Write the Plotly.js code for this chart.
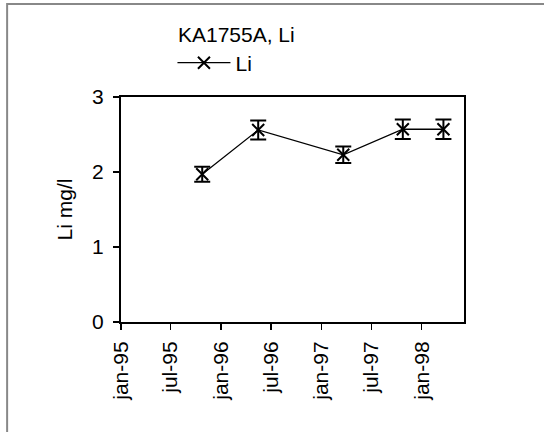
<!DOCTYPE html>
<html>
<head>
<meta charset="utf-8">
<script src="https://cdn.plot.ly/plotly-3.0.1.min.js"></script>
<style>
html,body{margin:0;padding:0;background:#fff;}
#chart{width:544px;height:432px;}
</style>
</head>
<body>
<div id="chart"></div>
<script>
var sampleDates = ['1995-10-24', '1996-05-15', '1997-03-21', '1997-10-24', '1998-03-21'];
var liValues = [1.97, 2.56, 2.23, 2.57, 2.57];
var errorPercent = 5;
var tickDates = ['1995-01-01', '1995-07-01', '1996-01-01', '1996-07-01', '1997-01-01', '1997-07-01', '1998-01-01'];
var tickLabels = ['jan-95', 'jul-95', 'jan-96', 'jul-96', 'jan-97', 'jul-97', 'jan-98'];

var font = 'Arial, "Liberation Sans", Helvetica, sans-serif';

var trace = {
  x: sampleDates,
  y: liValues,
  type: 'scatter',
  mode: 'lines+markers',
  name: 'Li',
  line: {color: '#000', width: 1.3},
  marker: {symbol: 'x-thin-open', size: 12, color: '#000', line: {color: '#000', width: 2}},
  error_y: {type: 'percent', value: errorPercent, visible: true, color: '#000', thickness: 2, width: 8}
};

var layout = {
  width: 544,
  height: 432,
  margin: {l: 121, r: 80, t: 97, b: 110},
  paper_bgcolor: '#fff',
  plot_bgcolor: '#fff',
  showlegend: true,
  title: {
    text: 'KA1755A, Li',
    font: {family: font, size: 21, color: '#000'},
    xref: 'paper', x: 0.166, xanchor: 'left',
    yref: 'container', y: 0.919, yanchor: 'middle'
  },
  legend: {
    x: 0.15, xanchor: 'left', y: 1.151, yanchor: 'middle',
    font: {family: font, size: 21, color: '#000'},
    bgcolor: 'rgba(0,0,0,0)',
    itemwidth: 53
  },
  xaxis: {
    type: 'date',
    range: ['1995-01-01', '1998-06-04'],
    tickvals: tickDates,
    ticktext: tickLabels,
    tickangle: -90,
    tickfont: {family: font, size: 21, color: '#000'},
    ticks: 'outside', ticklen: 6, tickwidth: 1.5, tickcolor: '#000',
    ticklabelstandoff: 3,
    showline: true, mirror: true, linecolor: '#000', linewidth: 2,
    showgrid: false, zeroline: false
  },
  yaxis: {
    range: [0, 3],
    dtick: 1,
    tickfont: {family: font, size: 21, color: '#000'},
    ticks: 'outside', ticklen: 6, tickwidth: 1.5, tickcolor: '#000',
    ticklabelstandoff: 5,
    showline: true, mirror: true, linecolor: '#000', linewidth: 2,
    showgrid: false, zeroline: false,
    title: {text: 'Li mg/l', font: {family: font, size: 21, color: '#000'}, standoff: 14}
  },
  shapes: [{
    type: 'rect', xref: 'paper', yref: 'paper',
    x0: -0.332, x1: 1.3, y0: -0.6, y1: 1.413,
    line: {color: '#888', width: 2}, fillcolor: 'rgba(0,0,0,0)'
  }]
};

Plotly.newPlot('chart', [trace], layout, {displayModeBar: false, staticPlot: true});
</script>
</body>
</html>
